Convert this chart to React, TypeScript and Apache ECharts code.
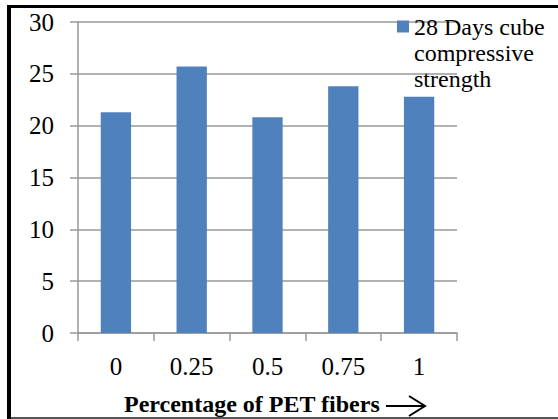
import React, { useEffect, useRef } from "react";
import * as echarts from "echarts";

const categories = ["0", "0.25", "0.5", "0.75", "1"];
const strength28 = [21.3, 25.7, 20.8, 23.8, 22.8];
const seriesName = "28 Days cube compressive strength";
const legendLines = ["28 Days cube", "compressive", "strength"];
const xAxisTitle = "Percentage of PET fibers";

export default function App() {
  const ref = useRef<HTMLDivElement>(null);
  useEffect(() => {
    if (!ref.current) return;
    const chart = echarts.init(ref.current, null, { renderer: "svg" });
    const font = "Liberation Serif";
    chart.setOption({
      animation: false,
      backgroundColor: "#ffffff",
      textStyle: { fontFamily: font },
      grid: { left: 78, right: 101, top: 22, bottom: 86, containLabel: false },
      legend: {
        show: true,
        left: 397,
        top: -38.5,
        padding: 0,
        itemWidth: 12,
        itemHeight: 12,
        itemGap: 0,
        icon: "rect",
        data: [seriesName],
        formatter: () => "\n\n" + legendLines.join("\n"),
        textStyle: {
          fontFamily: "Liberation Serif, serif",
          fontSize: 24,
          fontWeight: "normal",
          fontStyle: "normal",
          color: "#000",
          lineHeight: 26,
        },
      },
      xAxis: {
        type: "category",
        data: categories,
        axisLine: { lineStyle: { color: "#999", width: 1.5 } },
        axisTick: { show: true, length: 8, lineStyle: { color: "#999", width: 1.5 } },
        axisLabel: { fontFamily: font, fontSize: 25, color: "#000", margin: 21 },
        splitLine: { show: false },
      },
      yAxis: {
        type: "value",
        min: 0,
        max: 30,
        interval: 5,
        axisLine: { show: true, lineStyle: { color: "#999", width: 1.5 } },
        axisTick: { show: true, length: 8, lineStyle: { color: "#999", width: 1.5 } },
        axisLabel: { fontFamily: font, fontSize: 25, color: "#000", margin: 24 },
        splitLine: { show: true, lineStyle: { color: "#999", width: 1.5 } },
      },
      series: [
        {
          name: seriesName,
          type: "bar",
          data: strength28,
          barWidth: "40%",
          itemStyle: { color: "#4f81bd" },
        },
      ],
      graphic: [
        { type: "rect", shape: { x: 7, y: 5, width: 551, height: 3 }, style: { fill: "#000" } },
        { type: "rect", shape: { x: 7, y: 5, width: 4, height: 414 }, style: { fill: "#000" } },
        { type: "rect", shape: { x: 11, y: 417, width: 547, height: 2 }, style: { fill: "#555" } },
        {
          type: "text",
          left: 124,
          top: 392,
          style: {
            text: xAxisTitle,
            fontFamily: font,
            fontSize: 24,
            fontWeight: "bold",
            fill: "#000",
          },
        },
        {
          type: "line",
          shape: { x1: 386, y1: 406, x2: 425, y2: 406 },
          style: { stroke: "#000", lineWidth: 2 },
        },
        {
          type: "polyline",
          shape: { points: [[409, 396], [425, 406], [409, 416]] },
          style: { stroke: "#000", lineWidth: 2, fill: null },
        },
      ],
    });
    return () => chart.dispose();
  }, []);
  return (
    <div
      ref={ref}
      style={{ position: "fixed", left: 0, top: 0, width: 558, height: 419 }}
    />
  );
}
